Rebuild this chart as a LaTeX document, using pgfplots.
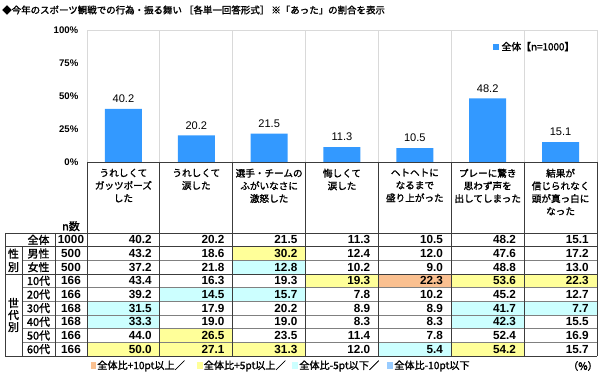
\documentclass[border=0pt]{standalone}
\usepackage{fontspec}
\setmainfont{Noto Sans CJK JP}[BoldFont={Noto Sans CJK JP}, BoldFeatures={FakeBold=1.6}]
\newfontfamily\ar{Liberation Sans}
\usepackage{pgfplots}
\pgfplotsset{compat=1.18}
\definecolor{barblue}{RGB}{51,153,255}
\definecolor{cO}{RGB}{250,192,144}
\definecolor{cY}{RGB}{255,255,153}
\definecolor{cC}{RGB}{204,255,255}
\definecolor{cB}{RGB}{153,204,255}
\definecolor{lgray}{RGB}{217,217,217}
\definecolor{lineg}{RGB}{60,60,60}
\newcommand{\fs}[2][]{\fontsize{#2}{#2}\selectfont}
\begin{document}
\begin{tikzpicture}
\path[use as bounding box] (0pt,0pt) rectangle (450pt,-279.75pt);
\begin{axis}[
  at={(65.25pt,-121.5pt)}, anchor=south west,
  scale only axis, width=382.5pt, height=99pt,
  xmin=-0.5, xmax=6.5, ymin=0, ymax=100,
  ytick={0,25,50,75,100},
  yticklabel={\pgfmathprintnumber{\tick}\%},
  /pgf/number format/assume math mode=true,
  yticklabel style={font=\ar\bfseries\fs{7.2}, xshift=-3pt},
  xtick={0.5,1.5,2.5,3.5,4.5,5.5}, xticklabels={},
  xmajorgrids, major grid style={lgray, line width=0.6pt},
  major tick length=0pt,
  axis line style={lgray, line width=0.6pt},
  legend style={at={(0.797,0.87)}, anchor=west, draw=none, fill=none,
    font=\bfseries\fs{7.4}, inner sep=0pt, outer sep=0pt,
    /tikz/every even column/.append style={column sep=1pt}},
  legend image code/.code={\fill[barblue] (0pt,-2pt) rectangle (4pt,2pt);},
]
\addplot[ybar, bar width=27.75pt, fill=barblue, draw=none,
  nodes near coords, point meta=y,
  every node near coord/.append style={font=\ar\fs{8.3}, yshift=1pt,
    /pgf/number format/fixed, /pgf/number format/fixed zerofill,
    /pgf/number format/precision=1}]
  coordinates {(0,40.2) (1,20.2) (2,21.5) (3,11.3) (4,10.5) (5,48.2) (6,15.1)};
\addlegendentry{全体【n=1000】}
\end{axis}
\begin{scope}[x=0.75pt, y=-0.75pt]
% title
\node[anchor=west, inner sep=0pt, font=\bfseries\fs{7.1}] at (2,10) {◆今年のスポーツ観戦での行為・振る舞い ［各単一回答形式］ ※「あった」の割合を表示};
% cell fills
\foreach \c/\r/\col in {3/1/cY,3/2/cC,4/3/cY,5/3/cO,6/3/cY,7/3/cY,2/4/cC,3/4/cC,1/5/cC,6/5/cC,7/5/cC,1/6/cC,6/6/cC,2/7/cY,1/8/cY,2/8/cY,3/8/cY,5/8/cC,6/8/cY}
  \fill[\col] ({87+72.857*(\c-1)},{233+13.667*\r}) rectangle ({87+72.857*\c},{233+13.667*(\r+1)});
% horizontal lines
\draw[lineg, line width=0.7pt] (87,162) -- (597,162);
\draw[lineg, line width=0.7pt] (5,233) -- (597,233);
\foreach \r in {1,3} \draw[lineg, line width=0.6pt] (5,{233+13.667*\r}) -- (597,{233+13.667*\r});
\foreach \r in {2,4,5,6,7,8} \draw[gray, line width=0.5pt] (22,{233+13.667*\r}) -- (597,{233+13.667*\r});
\draw[lineg, line width=0.7pt] (5,356) -- (597,356);
% vertical lines
\draw[lineg, line width=0.7pt] (5,233) -- (5,356);
\draw[lineg, line width=0.6pt] (22,246.67) -- (22,356);
\draw[lineg, line width=0.6pt] (55,233) -- (55,356);
\foreach \k in {0,...,7} \draw[lineg, line width=0.6pt] ({87+72.857*\k},162) -- ({87+72.857*\k},356);
% header labels
\foreach \t [count=\i] in {{うれしくて\\ガッツポーズ\\した},{うれしくて\\涙した},{選手・チームの\\ふがいなさに\\激怒した},{悔しくて\\涙した},{ヘトヘトに\\なるまで\\盛り上がった},{プレーに驚き\\思わず声を\\出してしまった},{結果が\\信じられなく\\頭が真っ白に\\なった}}
  \node[anchor=north, align=center, inner sep=0pt, font=\bfseries\fontsize{7.2}{9.5}\selectfont] at ({87+72.857*(\i-0.5)},168.5) {\t};
\node[anchor=south, inner sep=0pt, font=\bfseries\fs{8.2}] at (71,231.5) {n数};
% row labels
\foreach \r/\t in {0/全体,1/男性,2/女性,3/10代,4/20代,5/30代,6/40代,7/50代,8/60代}
  \node[inner sep=0pt, font=\bfseries\fs{8.2}] at (38.5,{233+13.667*(\r+0.5)}) {\t};
\foreach \r/\t in {0/1000,1/500,2/500,3/166,4/166,5/168,6/168,7/166,8/166}
  \node[inner sep=0pt, font=\ar\bfseries\fs{8.8}] at (71,{233+13.667*(\r+0.5)}) {\t};
\node[align=center, inner sep=0pt, font=\bfseries\fontsize{8.2}{10}\selectfont] at (13.5,260.3) {性\\別};
\node[align=center, inner sep=0pt, font=\bfseries\fontsize{8.2}{9}\selectfont] at (13.5,315) {世\\代\\別};
% values
\foreach \r/\vals in {0/{40.2,20.2,21.5,11.3,10.5,48.2,15.1},1/{43.2,18.6,30.2,12.4,12.0,47.6,17.2},2/{37.2,21.8,12.8,10.2,9.0,48.8,13.0},3/{43.4,16.3,19.3,19.3,22.3,53.6,22.3},4/{39.2,14.5,15.7,7.8,10.2,45.2,12.7},5/{31.5,17.9,20.2,8.9,8.9,41.7,7.7},6/{33.3,19.0,19.0,8.3,8.3,42.3,15.5},7/{44.0,26.5,23.5,11.4,7.8,52.4,16.9},8/{50.0,27.1,31.3,12.0,5.4,54.2,15.7}}
  \foreach \v [count=\c] in \vals
    \node[anchor=east, inner sep=0pt, font=\ar\bfseries\fs{8.8}] at ({87+72.857*\c-8},{233+13.667*(\r+0.5)}) {\v};
% bottom legend
\fill[cO] (90.5,362.5) rectangle (96,369.5);
\node[anchor=west, inner sep=0pt, font=\bfseries\fs{7.6}] at (97,366) {全体比+10pt以上／};
\fill[cY] (197,362.5) rectangle (202.5,369.5);
\node[anchor=west, inner sep=0pt, font=\bfseries\fs{7.6}] at (203.5,366) {全体比+5pt以上／};
\fill[cC] (292,362.5) rectangle (297.5,369.5);
\node[anchor=west, inner sep=0pt, font=\bfseries\fs{7.6}] at (299,366) {全体比-5pt以下／};
\fill[cB] (387,362.5) rectangle (392.5,369.5);
\node[anchor=west, inner sep=0pt, font=\bfseries\fs{7.6}] at (394,366) {全体比-10pt以下};
\node[anchor=east, inner sep=0pt, font=\bfseries\fs{7.6}] at (598,366) {（\%）};
\end{scope}
\end{tikzpicture}
\end{document}
